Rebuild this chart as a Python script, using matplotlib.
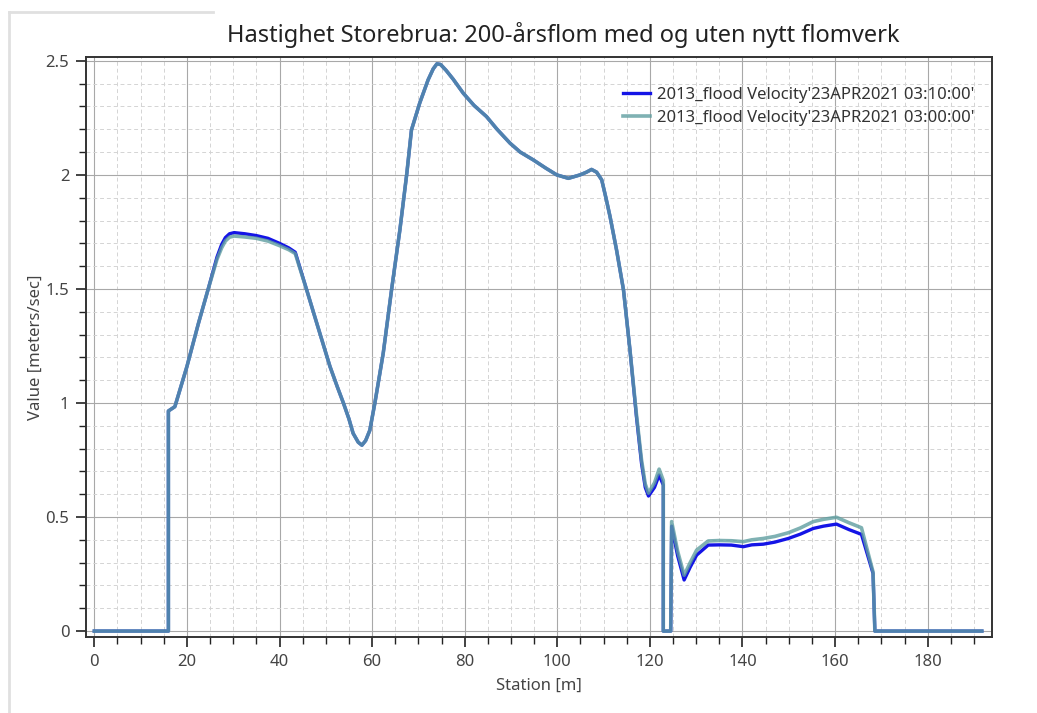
import matplotlib
matplotlib.use("Agg")
import matplotlib.pyplot as plt
from matplotlib.ticker import MultipleLocator, FuncFormatter
from matplotlib.lines import Line2D

plt.rcParams['font.family'] = ['Noto Sans', 'DejaVu Sans']

# station [m] and velocity [m/s]
station = [0, 16.0, 16.0, 17.4, 20.0, 22.5, 24.6, 26.5, 27.5, 28.3, 29.2, 30.2, 32.5,
           35.0, 37.5, 40.0, 42.0, 43.4, 46.0, 48.0, 50.9, 52.5, 53.8, 55.0, 55.9,
           57.0, 57.8, 58.6, 59.5, 60.6, 62.4, 64.2, 66.0, 67.5, 68.5, 70.3, 72.1,
           73.2, 74.0, 74.8, 76.0, 77.5, 79.7, 82.0, 84.7, 87.0, 89.8, 92.0, 94.8,
           97.5, 99.9, 102.4, 104.9, 106.3, 107.4, 108.5, 109.6, 110.5, 111.4, 112.8,
           114.3, 115.7, 117.1, 118.2, 119.0, 119.7, 121.0, 122.0, 122.9, 122.9, 124.5,
           124.7, 126.0, 127.4, 128.7, 130.1, 132.6, 135.0, 137.6, 140.2, 142.0, 144.5,
           147.0, 149.9, 152.5, 155.3, 157.5, 160.3, 163.0, 165.7, 168.2, 168.6, 191.7]

vel_0310 = [0, 0, 0.965, 0.984, 1.16, 1.35, 1.50, 1.64, 1.695, 1.725, 1.742, 1.747, 1.742,
            1.734, 1.722, 1.70, 1.68, 1.661, 1.487, 1.353, 1.16, 1.07, 1.0, 0.93, 0.867,
            0.828, 0.815, 0.835, 0.88, 1.0, 1.218, 1.496, 1.759, 2.007, 2.197, 2.316, 2.417,
            2.465, 2.487, 2.484, 2.458, 2.42, 2.358, 2.305, 2.256, 2.20, 2.139, 2.10, 2.066,
            2.03, 2.0, 1.985, 2.0, 2.012, 2.024, 2.012, 1.978, 1.90, 1.817, 1.671,
            1.496, 1.232, 0.94, 0.735, 0.63, 0.592, 0.63, 0.684, 0.64, 0.0, 0.0,
            0.46, 0.33, 0.224, 0.28, 0.333, 0.377, 0.378, 0.377, 0.370, 0.378, 0.381,
            0.39, 0.406, 0.425, 0.45, 0.46, 0.469, 0.445, 0.424, 0.253, 0.0, 0.0]

vel_0300 = [0, 0, 0.965, 0.984, 1.16, 1.35, 1.50, 1.63, 1.68, 1.71, 1.727, 1.732, 1.728,
            1.722, 1.71, 1.69, 1.672, 1.655, 1.487, 1.353, 1.16, 1.07, 1.0, 0.93, 0.867,
            0.828, 0.815, 0.835, 0.88, 1.0, 1.218, 1.496, 1.759, 2.007, 2.197, 2.316, 2.417,
            2.465, 2.487, 2.484, 2.458, 2.42, 2.358, 2.305, 2.256, 2.20, 2.139, 2.10, 2.066,
            2.03, 2.0, 1.985, 2.0, 2.012, 2.024, 2.012, 1.978, 1.90, 1.817, 1.671,
            1.496, 1.232, 0.95, 0.75, 0.645, 0.605, 0.65, 0.71, 0.66, 0.0, 0.0,
            0.48, 0.35, 0.245, 0.30, 0.355, 0.395, 0.397, 0.396, 0.392, 0.40, 0.406,
            0.415, 0.431, 0.452, 0.48, 0.49, 0.499, 0.475, 0.453, 0.26, 0.0, 0.0]

labels = ["2013_flood Velocity'23APR2021 03:10:00'",
          "2013_flood Velocity'23APR2021 03:00:00'"]

fig = plt.figure(figsize=(10.37, 7.13), dpi=100)
ax = fig.add_axes([86/1037, 1 - 637/713, (992 - 86)/1037, (637 - 57)/713])

ax.plot(station, vel_0310, color='#1414e6', lw=2.4, label=labels[0],
        solid_joinstyle='round', zorder=3)
ax.plot(station, vel_0300, color='#5f9ea0', lw=2.6, alpha=0.8, label=labels[1],
        solid_joinstyle='round', zorder=4)

ax.set_xlim(-1.8, 193.9)
ax.set_ylim(-0.026, 2.517)
ax.xaxis.set_major_locator(MultipleLocator(20))
ax.xaxis.set_minor_locator(MultipleLocator(5))
ax.yaxis.set_major_locator(MultipleLocator(0.5))
ax.yaxis.set_minor_locator(MultipleLocator(0.1))
ax.yaxis.set_major_formatter(FuncFormatter(lambda v, p: f"{v:g}"))

ax.grid(which='major', color='#a8a8a8', lw=0.8)
ax.grid(which='minor', color='#d4d4d4', lw=0.7, ls=(0, (4, 3)))
ax.set_axisbelow(True)

ax.tick_params(which='major', direction='out', length=7, width=1.2, color='#222222',
               labelsize=12, labelcolor='#444444', pad=5)
ax.tick_params(which='minor', direction='out', length=5, width=1.0, color='#222222')
for s in ax.spines.values():
    s.set_color('#333333')
    s.set_linewidth(1.4)

ax.set_xlabel("Station [m]", fontsize=12, color='#444444', labelpad=6)
ax.set_ylabel("Value [meters/sec]", fontsize=12, color='#444444', labelpad=1)
ax.set_title("Hastighet Storebrua: 200-årsflom med og uten nytt flomverk",
             fontsize=17, color='#222222', pad=11, x=(563 - 86) / 906)

ax.legend(loc='upper right', frameon=False, fontsize=12, handlelength=1.6,
          handletextpad=0.4, labelspacing=0.45, bbox_to_anchor=(0.997, 0.975),
          labelcolor='#333333')

# faint window border from the screenshot
fig.add_artist(Line2D([9/1037, 9/1037], [0, 1 - 12/713], color='#e0e0e0', lw=2))
fig.add_artist(Line2D([9/1037, 213/1037], [1 - 12/713, 1 - 12/713], color='#e0e0e0', lw=2))

fig.savefig("out.png", dpi=100)
